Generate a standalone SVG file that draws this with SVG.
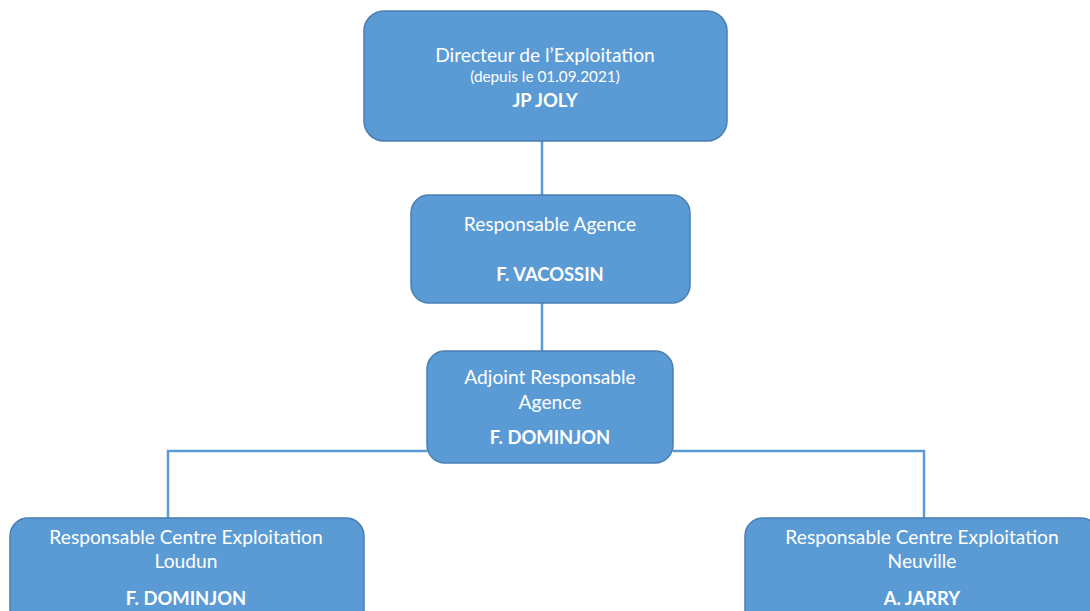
<svg xmlns="http://www.w3.org/2000/svg" width="1090" height="611" viewBox="0 0 1090 611">
<style>
.box{fill:#5b9bd5;stroke:#4a7eb0;stroke-width:1.5}
.t{font-family:Lato,"Open Sans","Liberation Sans",sans-serif;font-size:19.2px;fill:#ffffff;text-anchor:middle}
.s{font-size:15.3px}
.b{font-weight:bold;font-size:18.4px}
.c{fill:none;stroke:#5b9bd5;stroke-width:2.5}
</style>
<rect width="1090" height="611" fill="#ffffff"/>
<g id="connectors">
<path class="c" d="M542 141V195"/>
<path class="c" d="M542 303V351"/>
<path class="c" d="M427 451H168V518"/>
<path class="c" d="M673 451H924V518"/>
</g>
<g id="n1">
<rect class="box" x="364" y="11" width="363" height="130" rx="20"/>
<text class="t" x="545" y="62">Directeur de l’Exploitation</text>
<text class="t s" x="545" y="82">(depuis le 01.09.2021)</text>
<text class="t b" x="545" y="107">JP JOLY</text>
</g>
<g id="n2">
<rect class="box" x="411" y="195" width="279" height="108" rx="18"/>
<text class="t" x="550" y="231">Responsable Agence</text>
<text class="t b" x="550" y="281">F. VACOSSIN</text>
</g>
<g id="n3">
<rect class="box" x="427" y="351" width="246" height="112" rx="18"/>
<text class="t" x="550" y="384">Adjoint Responsable</text>
<text class="t" x="550" y="409">Agence</text>
<text class="t b" x="550" y="444">F. DOMINJON</text>
</g>
<g id="n4">
<rect class="box" x="10" y="518" width="354" height="110" rx="18"/>
<text class="t" x="186" y="544">Responsable Centre Exploitation</text>
<text class="t" x="186" y="568">Loudun</text>
<text class="t b" x="186" y="605">F. DOMINJON</text>
</g>
<g id="n5">
<rect class="box" x="745" y="518" width="354" height="110" rx="18"/>
<text class="t" x="922" y="544">Responsable Centre Exploitation</text>
<text class="t" x="922" y="568">Neuville</text>
<text class="t b" x="922" y="605">A. JARRY</text>
</g>
</svg>
